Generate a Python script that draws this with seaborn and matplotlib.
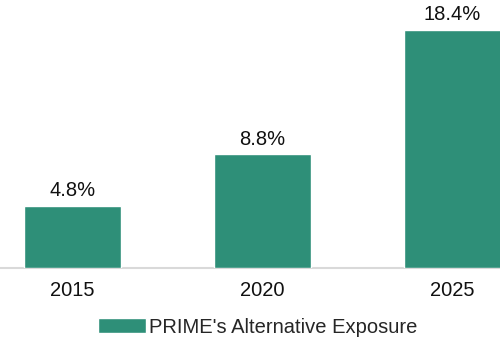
import matplotlib
matplotlib.use("Agg")
import matplotlib.pyplot as plt
import seaborn as sns
import pandas as pd

years = ["2015", "2020", "2025"]
exposure = [4.8, 8.8, 18.4]
series_name = "PRIME's Alternative Exposure"
bar_color = "#2e8f78"

df = pd.DataFrame({"year": years, "value": exposure, "series": [series_name] * len(years)})

sns.set_theme(style="white")
plt.rcParams["font.family"] = ["Liberation Sans", "DejaVu Sans"]

fig = plt.figure(figsize=(5.0, 3.41), dpi=100)
ax = fig.add_axes([0.0, 0.214, 1.0, 0.786])

sns.barplot(data=df, x="year", y="value", hue="series", palette=[bar_color],
            width=0.51, saturation=1, ax=ax, legend=True)

for container in ax.containers:
    ax.bar_label(container, labels=[f"{v:.1f}%" for v in exposure],
                 padding=4, fontsize=14.5, color="#111111")

ax.set_xlim(-0.382, 2.25)
ax.set_ylim(0, 20.7)
ax.set_xlabel("")
ax.set_ylabel("")
ax.set_yticks([])
ax.tick_params(axis="x", length=0, labelsize=14.5, labelcolor="#111111", pad=9)
for side in ["top", "left", "right"]:
    ax.spines[side].set_visible(False)
ax.spines["bottom"].set_color("#d9d9d9")
ax.spines["bottom"].set_linewidth(1.5)
ax.spines["bottom"].set_zorder(0)

sns.move_legend(ax, "center", bbox_to_anchor=(0.515, 0.041), bbox_transform=fig.transFigure,
                frameon=False, title=None, fontsize=14.5, handlelength=2.4,
                handleheight=0.7, handletextpad=0.15, borderpad=0)

fig.savefig("out.png", dpi=100)
